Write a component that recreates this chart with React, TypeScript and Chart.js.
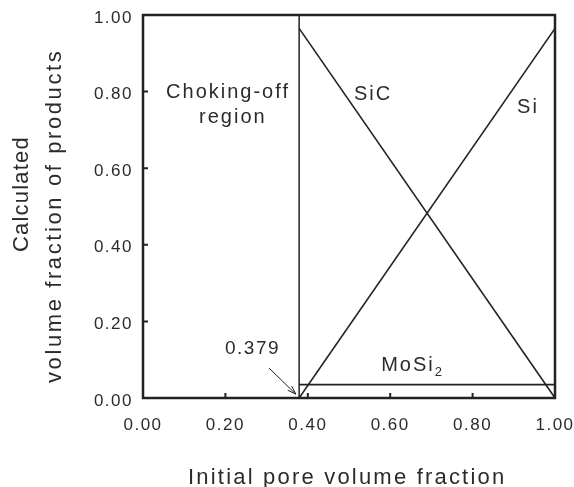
import React, { useEffect, useRef } from "react";
import { Chart, registerables } from "chart.js";

Chart.register(...registerables);

// ---- data ----
const xTicks = [0, 0.2, 0.4, 0.6, 0.8, 1.0];
const yTicks = [0, 0.2, 0.4, 0.6, 0.8, 1.0];
const chokeX = [0.379, 0.379];
const chokeY = [0.0, 1.0];
const phaseX = [0.379, 1.0];
const sicY = [0.965, 0.0];
const siY = [0.0, 0.965];
const mosi2Y = [0.035, 0.035];
const xTitle = "Initial pore volume fraction";
const yTitle = ["Calculated", "volume fraction of products"];
const arrowFrom = [0.306, 0.078];
const arrowTo = [0.371, 0.01];

const INK = "#222";
const TEXT = "#2b2b2b";
const FONT = "'Liberation Sans', Arial, Helvetica, sans-serif";

const pts = (xs: number[], ys: number[]) => xs.map((x, i) => ({ x, y: ys[i] }));

const decor = {
  id: "decor",
  beforeDraw(chart: any) {
    chart.ctx.letterSpacing = "1.5px";
  },
  afterDraw(chart: any) {
    const { ctx, chartArea, scales } = chart;
    const { left, top, right, bottom } = chartArea;
    const xs = scales.x;
    const ys = scales.y;
    const px = (v: number) => xs.getPixelForValue(v);
    const py = (v: number) => ys.getPixelForValue(v);
    ctx.save();
    ctx.strokeStyle = INK;
    ctx.lineWidth = 2.5;
    ctx.strokeRect(left, top, right - left, bottom - top);
    ctx.lineWidth = 2;
    ctx.beginPath();
    for (const v of yTicks) {
      ctx.moveTo(left, py(v));
      ctx.lineTo(left + 5, py(v));
    }
    for (const v of xTicks) {
      ctx.moveTo(px(v), bottom);
      ctx.lineTo(px(v), bottom - 5);
    }
    ctx.stroke();

    // arrow
    const x1 = px(arrowFrom[0]), y1 = py(arrowFrom[1]);
    const x2 = px(arrowTo[0]), y2 = py(arrowTo[1]);
    ctx.lineWidth = 1;
    ctx.beginPath();
    ctx.moveTo(x1, y1);
    ctx.lineTo(x2, y2);
    const a = Math.atan2(y2 - y1, x2 - x1);
    const h = 9;
    ctx.moveTo(x2 - h * Math.cos(a - 0.32), y2 - h * Math.sin(a - 0.32));
    ctx.lineTo(x2, y2);
    ctx.lineTo(x2 - h * Math.cos(a + 0.32), y2 - h * Math.sin(a + 0.32));
    ctx.stroke();

    // annotations
    ctx.fillStyle = TEXT;
    ctx.textAlign = "left";
    ctx.textBaseline = "alphabetic";
    ctx.letterSpacing = "2px";
    ctx.font = `20px ${FONT}`;
    ctx.fillText("Choking-off", px(0.056), py(0.784));
    ctx.fillText("region", px(0.136), py(0.719));
    ctx.fillText("SiC", px(0.512), py(0.779));
    ctx.fillText("Si", px(0.908), py(0.745));
    const mx = px(0.578), my = py(0.07);
    ctx.fillText("MoSi", mx, my);
    const w = ctx.measureText("MoSi").width;
    ctx.font = `13px ${FONT}`;
    ctx.fillText("2", mx + w, my + 5);
    ctx.letterSpacing = "1.5px";
    ctx.font = `19px ${FONT}`;
    ctx.fillText("0.379", px(0.199), py(0.115));

    // axis titles
    ctx.letterSpacing = "2.2px";
    ctx.font = `22px ${FONT}`;
    ctx.fillText(xTitle, 188, 484);
    ctx.save();
    ctx.translate(28, 252);
    ctx.rotate(-Math.PI / 2);
    ctx.letterSpacing = "1.2px";
    ctx.fillText(yTitle[0], 0, 0);
    ctx.restore();
    ctx.save();
    ctx.translate(61, 383);
    ctx.rotate(-Math.PI / 2);
    ctx.letterSpacing = "2.6px";
    ctx.fillText(yTitle[1], 0, 0);
    ctx.restore();
    ctx.restore();
  },
};

export default function App() {
  const ref = useRef<HTMLCanvasElement>(null);
  useEffect(() => {
    document.body.style.margin = "0";
    const canvas = ref.current!;
    const lineDs = (label: string, data: any[], width: number) => ({
      label,
      data,
      showLine: true,
      borderColor: INK,
      borderWidth: width,
      pointRadius: 0,
      fill: false,
    });
    const chart = new Chart(canvas, {
      type: "scatter",
      data: {
        datasets: [
          lineDs("Choking-off boundary", pts(chokeX, chokeY), 1.5),
          lineDs("SiC", pts(phaseX, sicY), 1.6),
          lineDs("Si", pts(phaseX, siY), 1.6),
          lineDs("MoSi2", pts(phaseX, mosi2Y), 1.6),
        ],
      },
      options: {
        responsive: false,
        animation: false,
        layout: { padding: { left: 0, right: 19, top: 15, bottom: 0 } },
        plugins: { legend: { display: false }, tooltip: { enabled: false } },
        scales: {
          x: {
            type: "linear",
            min: 0,
            max: 1,
            afterBuildTicks: (s: any) => {
              s.ticks = xTicks.map((v) => ({ value: v }));
            },
            afterFit: (s: any) => {
              s.height = 89;
              s.paddingLeft = 0;
              s.paddingRight = 0;
            },
            grid: { display: false, drawTicks: false },
            border: { display: false },
            ticks: {
              padding: 17,
              color: TEXT,
              font: { family: FONT, size: 17 },
              maxRotation: 0,
              callback: (v: any) => Number(v).toFixed(2),
            },
          },
          y: {
            type: "linear",
            min: 0,
            max: 1,
            afterBuildTicks: (s: any) => {
              s.ticks = yTicks.map((v) => ({ value: v }));
            },
            afterFit: (s: any) => {
              s.width = 143;
              s.paddingTop = 0;
              s.paddingBottom = 0;
            },
            grid: { display: false, drawTicks: false },
            border: { display: false },
            ticks: {
              padding: 10,
              labelOffset: 3,
              color: TEXT,
              font: { family: FONT, size: 17 },
              callback: (v: any) => Number(v).toFixed(2),
            },
          },
        },
      },
      plugins: [decor],
    });
    return () => chart.destroy();
  }, []);
  return <canvas ref={ref} width={574} height={487} style={{ display: "block" }} />;
}
